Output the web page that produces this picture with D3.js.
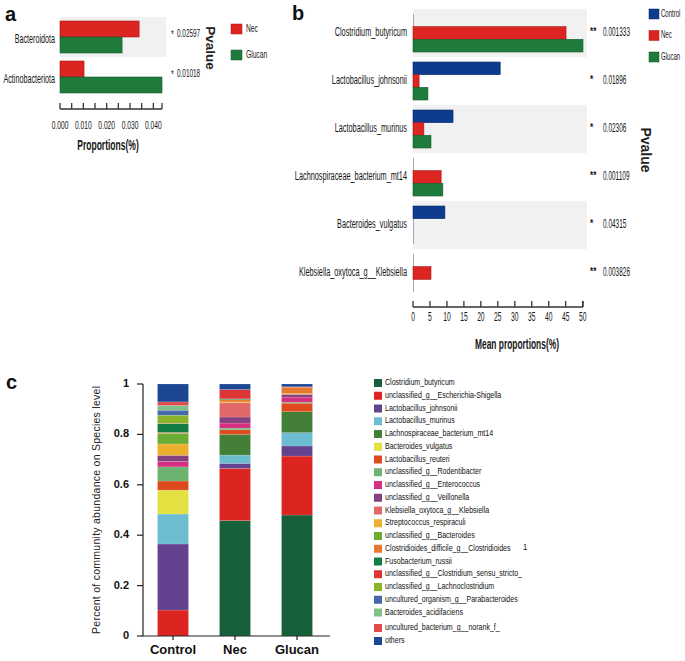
<!DOCTYPE html>
<html><head><meta charset="utf-8">
<script src="https://cdn.jsdelivr.net/npm/d3@7"></script>
<style>body{margin:0;background:#fff}svg{display:block}</style>
</head><body>
<script>
// ---------- Panel a data ----------
const catsA = ["Bacteroidota", "Actinobacteriota"];
const groupsA = ["Nec", "Glucan"];
const necA = [0.0339, 0.0103];
const glucanA = [0.0266, 0.0437];
const sigA = ["*", "*"];
const pA = ["0.02597", "0.01018"];
const ticksA = [0, 0.005, 0.010, 0.015, 0.020, 0.025, 0.030, 0.035, 0.040];
const labelTicksA = [0, 0.010, 0.020, 0.030, 0.040];
const tickLabelsA = ["0.000", "0.010", "0.020", "0.030", "0.040"];

// ---------- Panel b data ----------
const catsB = ["Clostridium_butyricum", "Lactobacillus_johnsonii", "Lactobacillus_murinus",
  "Lachnospiraceae_bacterium_mt14", "Bacteroides_vulgatus", "Klebsiella_oxytoca_g__Klebsiella"];
const groupsB = ["Control", "Nec", "Glucan"];
const controlB = [0, 25.7, 11.8, 0, 9.4, 0];
const necB = [45.1, 1.8, 3.2, 8.3, 0, 5.3];
const glucanB = [50.1, 4.4, 5.3, 8.8, 0, 0];
const sigB = ["**", "*", "*", "**", "*", "**"];
const pB = ["0.001333", "0.01896", "0.02306", "0.001109", "0.04315", "0.003826"];
const ticksB = [0, 5, 10, 15, 20, 25, 30, 35, 40, 45, 50];

// ---------- Panel c data ----------
const groupsC = ["Control", "Nec", "Glucan"];
const species = ["Clostridium_butyricum", "unclassified_g__Escherichia-Shigella", "Lactobacillus_johnsonii",
  "Lactobacillus_murinus", "Lachnospiraceae_bacterium_mt14", "Bacteroides_vulgatus", "Lactobacillus_reuteri",
  "unclassified_g__Rodentibacter", "unclassified_g__Enterococcus", "unclassified_g__Veillonella",
  "Klebsiella_oxytoca_g__Klebsiella", "Streptococcus_respiraculi", "unclassified_g__Bacteroides",
  "Clostridioides_difficile_g__Clostridioides", "Fusobacterium_russii", "unclassified_g__Clostridium_sensu_stricto_",
  "unclassified_g__Lachnoclostridium", "uncultured_organism_g__Parabacteroides", "Bacteroides_acidifaciens",
  "uncultured_bacterium_g__norank_f_", "others"];
const speciesColors = ["#16613a", "#dc2420", "#634290", "#6bbdcf", "#437f36", "#e3e042", "#dc4a1e",
  "#6db36f", "#d42f80", "#85417f", "#e06868", "#ecb02e", "#6aad34", "#e67830", "#137c43", "#dc3535",
  "#8ab52a", "#4468a8", "#80c08a", "#e04a4a", "#1d4793"];
const controlC = [0, 0.103, 0.262, 0.119, 0, 0.095, 0.036, 0.056, 0.022, 0.024, 0, 0.045, 0.042, 0.004,
  0.034, 0.002, 0.032, 0.020, 0.019, 0.014, 0.071];
const necC = [0.458, 0.207, 0.020, 0.033, 0.082, 0, 0.018, 0.007, 0.020, 0.024, 0.056, 0.004, 0, 0.009,
  0.003, 0.036, 0, 0, 0, 0.001, 0.022];
const glucanC = [0.480, 0.234, 0.040, 0.053, 0.083, 0, 0.034, 0.004, 0.020, 0.011, 0, 0.003, 0, 0.025,
  0, 0.002, 0, 0, 0, 0, 0.011];
const yTicksC = [0, 0.2, 0.4, 0.6, 0.8, 1];
const yTickLabelsC = ["0", "0.2", "0.4", "0.6", "0.8", "1"];

const colorAB = {Control: "#0d3b8e", Nec: "#dc2420", Glucan: "#1e7b3c"};
const strokeAB = {Control: "#0a2c6a", Nec: "#a81a18", Glucan: "#165c2d"};
const ARIAL = "'Liberation Sans',Arial,sans-serif";

const svg = d3.select("body").append("svg").attr("width", 685).attr("height", 661);

// condensed text helper (horizontal compression to mimic a narrow face)
function ntext(parent, x, y, str, o) {
  o = Object.assign({size: 11, sx: 0.61, anchor: "start", weight: "normal", fill: "#161616"}, o || {});
  return parent.append("text")
    .attr("transform", `translate(${x},${y}) scale(${o.sx},1)`)
    .attr("text-anchor", o.anchor).attr("dominant-baseline", "middle")
    .attr("font-family", ARIAL).attr("font-size", o.size).attr("font-weight", o.weight)
    .attr("fill", o.fill).text(str);
}

// panel letters
[["a", 5, 21], ["b", 292, 20], ["c", 6, 389]].forEach(([t, x, y]) =>
  svg.append("text").attr("x", x).attr("y", y).text(t)
    .attr("font-family", ARIAL).attr("font-weight", "bold").attr("font-size", 20).attr("fill", "#111"));

// ================= Panel a =================
{
  const x = d3.scaleLinear().domain([0, d3.max(necA.concat(glucanA))]).range([60, 162]);
  const y = d3.scaleBand().domain(catsA).range([17, 97]);
  const ys = d3.scaleBand().domain(groupsA).range([4, 36]);
  const vals = {Nec: necA, Glucan: glucanA};
  const g = svg.append("g");
  catsA.forEach((c, i) => {
    if (i % 2 === 0) g.append("rect").attr("x", 60).attr("y", y(c)).attr("width", 106)
      .attr("height", y.bandwidth()).attr("fill", "#f1f1f1");
    groupsA.forEach(gr => {
      g.append("rect").attr("x", x(0)).attr("y", y(c) + ys(gr)).attr("width", x(vals[gr][i]) - x(0))
        .attr("height", ys.bandwidth()).attr("fill", colorAB[gr]).attr("stroke", strokeAB[gr]).attr("stroke-width", 0.6);
    });
    const cy = y(c) + y.bandwidth() / 2;
    ntext(g, 55, cy + 3, c, {size: 12, sx: 0.6, anchor: "end"});
    ntext(g, 171, cy - 2, sigA[i], {size: 10, sx: 0.7});
    ntext(g, 177, cy - 3, pA[i], {size: 10.5, sx: 0.61});
  });
  // axis
  const ax = g.append("g").attr("transform", "translate(0,109)");
  ax.append("line").attr("x1", x(0)).attr("x2", x.range()[1]).attr("stroke", "#333").attr("stroke-width", 1.6);
  ticksA.concat([x.domain()[1]]).forEach(t => ax.append("line").attr("x1", x(t)).attr("x2", x(t))
    .attr("y1", 0).attr("y2", -6).attr("stroke", "#333").attr("stroke-width", 1.3));
  labelTicksA.forEach((t, i) => ntext(ax, x(t), 17, tickLabelsA[i], {size: 11.5, sx: 0.58, anchor: "middle"}));
  ntext(g, 108, 146, "Proportions(%)", {size: 14, sx: 0.61, anchor: "middle", weight: "bold"});
  g.append("text").attr("transform", "translate(210,48) rotate(90)").attr("text-anchor", "middle")
    .attr("dominant-baseline", "middle").attr("font-family", ARIAL).attr("font-weight", "bold")
    .attr("font-size", 13.5).attr("fill", "#222").text("Pvalue");
  // legend
  groupsA.forEach((gr, i) => {
    g.append("rect").attr("x", 231).attr("y", 24 + i * 26).attr("width", 11).attr("height", 10)
      .attr("fill", colorAB[gr]).attr("stroke", strokeAB[gr]).attr("stroke-width", 0.5);
    ntext(g, 246, 29 + i * 26, gr, {size: 11.5, sx: 0.58});
  });
}

// ================= Panel b =================
{
  const x = d3.scaleLinear().domain([0, d3.max(controlB.concat(necB, glucanB))]).range([413, 583]);
  const y = d3.scaleBand().domain(catsB).range([9, 297]);
  const ys = d3.scaleBand().domain(groupsB).range([5, 43]);
  const vals = {Control: controlB, Nec: necB, Glucan: glucanB};
  const g = svg.append("g");
  catsB.forEach((c, i) => {
    if (i % 2 === 0) g.append("rect").attr("x", 413).attr("y", y(c)).attr("width", 174)
      .attr("height", y.bandwidth()).attr("fill", "#f1f1f1");
    g.append("line").attr("x1", 413.5).attr("x2", 413.5).attr("y1", y(c) + ys("Control"))
      .attr("y2", y(c) + ys("Glucan") + ys.bandwidth()).attr("stroke", "#aaa").attr("stroke-width", 1);
    groupsB.forEach(gr => {
      const v = vals[gr][i];
      if (v > 0) g.append("rect").attr("x", x(0)).attr("y", y(c) + ys(gr)).attr("width", x(v) - x(0))
        .attr("height", ys.bandwidth()).attr("fill", colorAB[gr]).attr("stroke", strokeAB[gr]).attr("stroke-width", 0.6);
    });
    const cy = y(c) + y.bandwidth() / 2;
    ntext(g, 407, cy, c, {size: 12.5, sx: 0.585, anchor: "end"});
    ntext(g, 590, cy - 1, sigB[i], {size: 11, sx: 0.75, weight: "bold"});
    ntext(g, 603, cy, pB[i], {size: 12, sx: 0.54});
  });
  const ax = g.append("g").attr("transform", "translate(0,307)");
  ax.append("line").attr("x1", x(0)).attr("x2", x.range()[1]).attr("stroke", "#333").attr("stroke-width", 1.6);
  ticksB.concat([x.domain()[1]]).forEach(t => ax.append("line").attr("x1", x(t)).attr("x2", x(t))
    .attr("y1", 0).attr("y2", -6).attr("stroke", "#333").attr("stroke-width", 1.3));
  ticksB.forEach(t => ntext(ax, x(t), 11, String(t), {size: 12, sx: 0.56, anchor: "middle"}));
  ntext(g, 517, 345, "Mean proportions(%)", {size: 14, sx: 0.6, anchor: "middle", weight: "bold"});
  g.append("text").attr("transform", "translate(645,150) rotate(90)").attr("text-anchor", "middle")
    .attr("dominant-baseline", "middle").attr("font-family", ARIAL).attr("font-weight", "bold")
    .attr("font-size", 14).attr("fill", "#222").text("Pvalue");
  groupsB.forEach((gr, i) => {
    g.append("rect").attr("x", 649).attr("y", 9 + i * 21.5).attr("width", 10).attr("height", 10)
      .attr("fill", colorAB[gr]).attr("stroke", strokeAB[gr]).attr("stroke-width", 0.5);
    ntext(g, 661, 14 + i * 21.5, gr, {size: 11, sx: 0.55});
  });
}

// ================= Panel c =================
{
  const vals = {Control: controlC, Nec: necC, Glucan: glucanC};
  const rows = groupsC.map(gr => {
    const o = {group: gr};
    species.forEach((s, i) => o[s] = vals[gr][i]);
    return o;
  });
  const stack = d3.stack().keys(species)(rows);
  const x = d3.scaleBand().domain(groupsC).range([142, 328]).paddingInner(0.5).paddingOuter(0.25);
  const y = d3.scaleLinear().domain([0, 1]).range([636, 384]);
  const color = d3.scaleOrdinal().domain(species).range(speciesColors);
  const g = svg.append("g");
  stack.forEach(layer => {
    g.selectAll(null).data(layer).enter().append("rect")
      .attr("x", d => x(d.data.group)).attr("width", x.bandwidth())
      .attr("y", d => y(d[1])).attr("height", d => Math.max(0, y(d[0]) - y(d[1])))
      .attr("fill", color(layer.key)).attr("stroke", "rgba(255,255,255,0.35)").attr("stroke-width", 0.4);
  });
  // y axis
  g.append("line").attr("x1", 143).attr("x2", 143).attr("y1", y(0)).attr("y2", y(1)).attr("stroke", "#222").attr("stroke-width", 1.2);
  yTicksC.forEach((t, i) => {
    g.append("line").attr("x1", 137).attr("x2", 143).attr("y1", y(t)).attr("y2", y(t)).attr("stroke", "#222").attr("stroke-width", 1.2);
    g.append("text").attr("x", 129).attr("y", y(t)).attr("text-anchor", "end").attr("dominant-baseline", "middle")
      .attr("font-family", ARIAL).attr("font-weight", "bold").attr("font-size", 11).attr("fill", "#111").text(yTickLabelsC[i]);
  });
  // x axis
  g.append("line").attr("x1", 143).attr("x2", 330).attr("y1", y(0)).attr("y2", y(0)).attr("stroke", "#222").attr("stroke-width", 1.2);
  groupsC.forEach(gr => {
    const cx = x(gr) + x.bandwidth() / 2;
    g.append("line").attr("x1", cx).attr("x2", cx).attr("y1", y(0)).attr("y2", y(0) + 4).attr("stroke", "#222").attr("stroke-width", 1.2);
    g.append("text").attr("x", cx).attr("y", 651).attr("text-anchor", "middle").attr("dominant-baseline", "middle")
      .attr("font-family", ARIAL).attr("font-weight", "bold").attr("font-size", 13).attr("fill", "#111").text(gr);
  });
  g.append("text").attr("transform", "translate(97,510) rotate(-90)").attr("text-anchor", "middle")
    .attr("dominant-baseline", "middle").attr("font-family", ARIAL).attr("font-size", 10.5).attr("fill", "#222")
    .attr("textLength", 248).attr("lengthAdjust", "spacing")
    .text("Percent of community abundance on Species level");
  // legend
  species.forEach((s, i) => {
    const ly = i < 19 ? 383 + i * 12.75 : (i === 19 ? 628 : 641);
    g.append("rect").attr("x", 374).attr("y", ly - 4).attr("width", 8).attr("height", 8).attr("fill", color(s));
    ntext(g, 385, ly, s, {size: 8.5, sx: 0.83, fill: "#111"});
  });
  ntext(g, 523, 548, "1", {size: 8.5, sx: 0.9, fill: "#111"});
}
</script>
</body></html>
